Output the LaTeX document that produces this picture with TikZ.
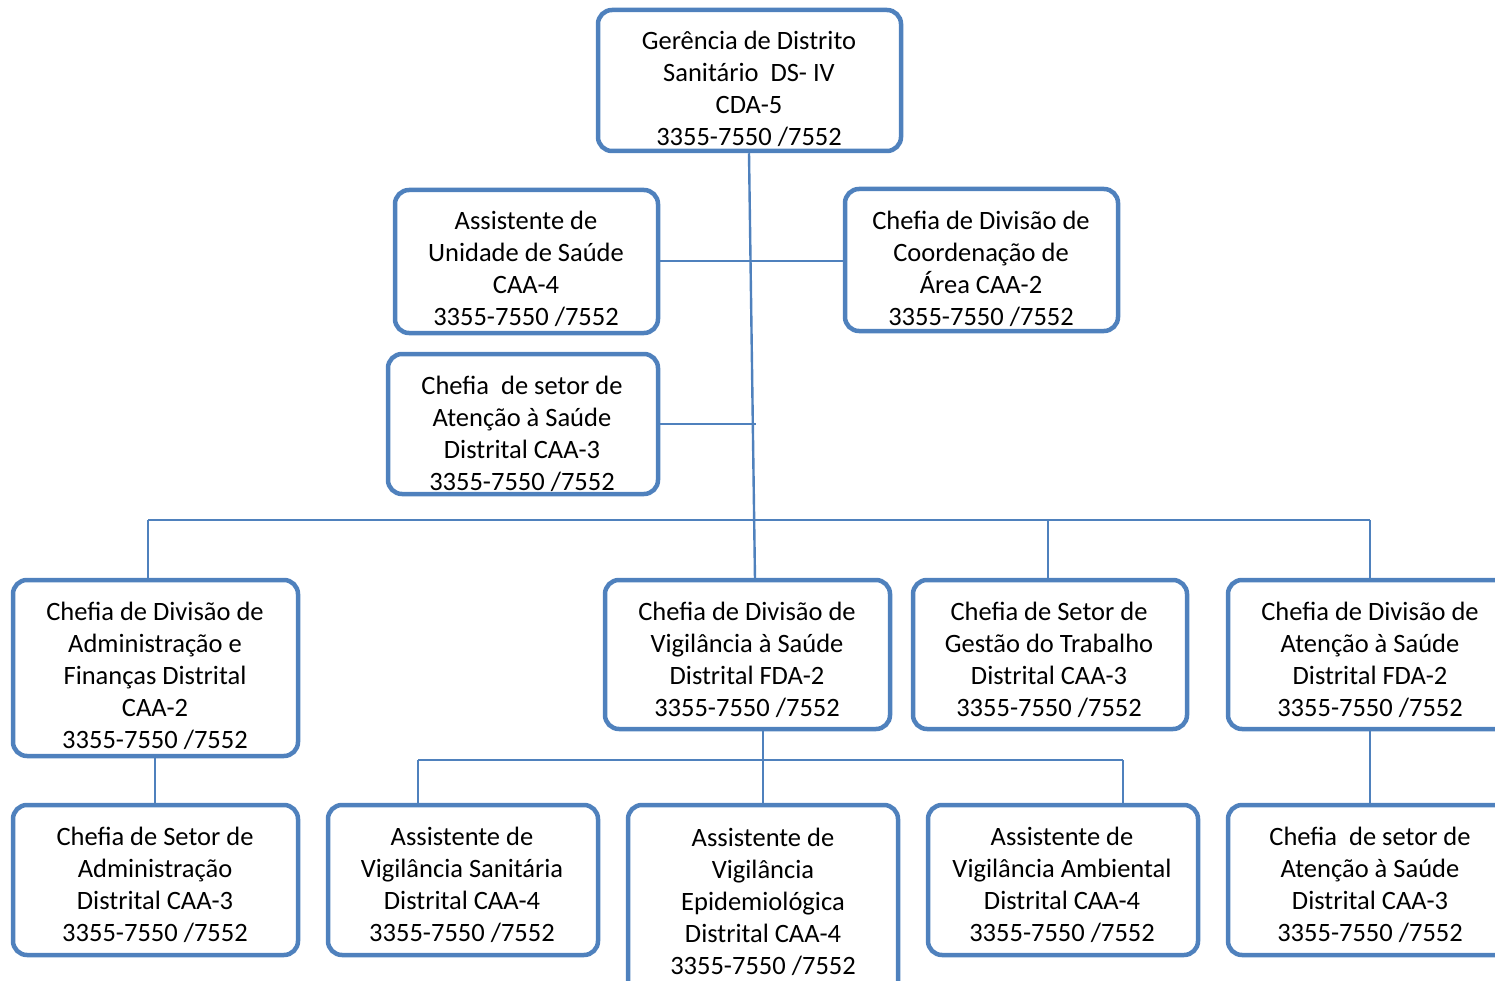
\documentclass[tikz,border=0pt]{standalone}
\usepackage{fontspec}
\setmainfont{Carlito}
\definecolor{obblue}{HTML}{4F81BD}
\begin{document}
\begin{tikzpicture}[x=1pt,y=-1pt,
  box/.style={draw=obblue,line width=4.5pt,rounded corners=14pt,inner sep=0pt},
  txt/.style={align=center,font=\fontsize{26.5}{32}\selectfont,inner sep=0pt},
  conn/.style={draw=obblue,line width=2.4pt}]
\useasboundingbox (0,0) rectangle (1495,981);
% boxes: (x1,y1) to (x2,y2)
\newcommand{\mybox}[5]{\node[box,minimum width=#3-#1,minimum height=#4-#2] (#5) at ({(#1+#3)/2},{(#2+#4)/2}) {};}
\mybox{598}{10}{901}{151}{top}
\mybox{395}{190}{658}{333}{asu}
\mybox{845}{189}{1118}{331}{cdc}
\mybox{388}{354}{658}{494}{csa}
\mybox{13}{580}{298}{756}{adm}
\mybox{605}{580}{890}{729}{vig}
\mybox{913}{580}{1187}{729}{ges}
\mybox{1228}{580}{1520}{729}{ats}
\mybox{13}{805}{298}{955}{sad}
\mybox{328}{805}{598}{955}{vsa}
\mybox{628}{805}{898}{1010}{epi}
\mybox{928}{805}{1198}{955}{amb}
\mybox{1228}{805}{1520}{955}{sat}
% texts
\node[txt] (ttop) at (749,89) {Gerência de Distrito\\Sanitário\ \ DS- IV\\CDA-5\\3355-7550 /7552};
\node[txt] (tasu) at (526,269) {Assistente de\\Unidade de Saúde\\CAA-4\\3355-7550 /7552};
\node[txt] (tcdc) at (981,269) {Chefia de Divisão de\\Coordenação de\\Área CAA-2\\3355-7550 /7552};
\node[txt] (tcsa) at (522,434) {Chefia\ \ de setor de\\Atenção à Saúde\\Distrital CAA-3\\3355-7550 /7552};
\node[txt] (tadm) at (155,676) {Chefia de Divisão de\\Administração e\\Finanças Distrital\\CAA-2\\3355-7550 /7552};
\node[txt] (tvig) at (747,660) {Chefia de Divisão de\\Vigilância à Saúde\\Distrital FDA-2\\3355-7550 /7552};
\node[txt] (tges) at (1049,660) {Chefia de Setor de\\Gestão do Trabalho\\Distrital CAA-3\\3355-7550 /7552};
\node[txt] (tats) at (1370,660) {Chefia de Divisão de\\Atenção à Saúde\\Distrital FDA-2\\3355-7550 /7552};
\node[txt] (tsad) at (155,885) {Chefia de Setor de\\Administração\\Distrital CAA-3\\3355-7550 /7552};
\node[txt] (tvsa) at (462,885) {Assistente de\\Vigilância Sanitária\\Distrital CAA-4\\3355-7550 /7552};
\node[txt] (tepi) at (763,902) {Assistente de\\Vigilância\\Epidemiológica\\Distrital CAA-4\\3355-7550 /7552};
\node[txt] (tamb) at (1062,885) {Assistente de\\Vigilância Ambiental\\Distrital CAA-4\\3355-7550 /7552};
\node[txt] (tsat) at (1370,885) {Chefia\ \ de setor de\\Atenção à Saúde\\Distrital CAA-3\\3355-7550 /7552};
% connector coordinates
\coordinate (m0) at (749,151);
\coordinate (m1) at (755,580);
\coordinate (ja) at (751,261);
\coordinate (jb) at (756,424);
\coordinate (bl) at (148,520);
\coordinate (br) at (1370,520);
\coordinate (bg) at (1048,520);
\coordinate (vl) at (418,760);
\coordinate (vr) at (1123,760);
\coordinate (vc) at (763,760);
% connectors
\draw[conn] (top.south -| m0) -- (m1);
\draw[conn] (asu.east |- ja) -- (cdc.west |- ja);
\draw[conn] (csa.east |- jb) -- (jb);
\draw[conn] (bl) -- (br);
\draw[conn] (bl) -- (adm.north -| bl);
\draw[conn] (bg) -- (ges.north -| bg);
\draw[conn] (br) -- (ats.north -| br);
\draw[conn] (adm.south -| 155,0) -- (sad.north -| 155,0);
\draw[conn] (vig.south -| vc) -- (epi.north -| vc);
\draw[conn] (vl) -- (vr);
\draw[conn] (vl) -- (vsa.north -| vl);
\draw[conn] (vr) -- (amb.north -| vr);
\draw[conn] (ats.south -| br) -- (sat.north -| br);
\end{tikzpicture}
\end{document}
